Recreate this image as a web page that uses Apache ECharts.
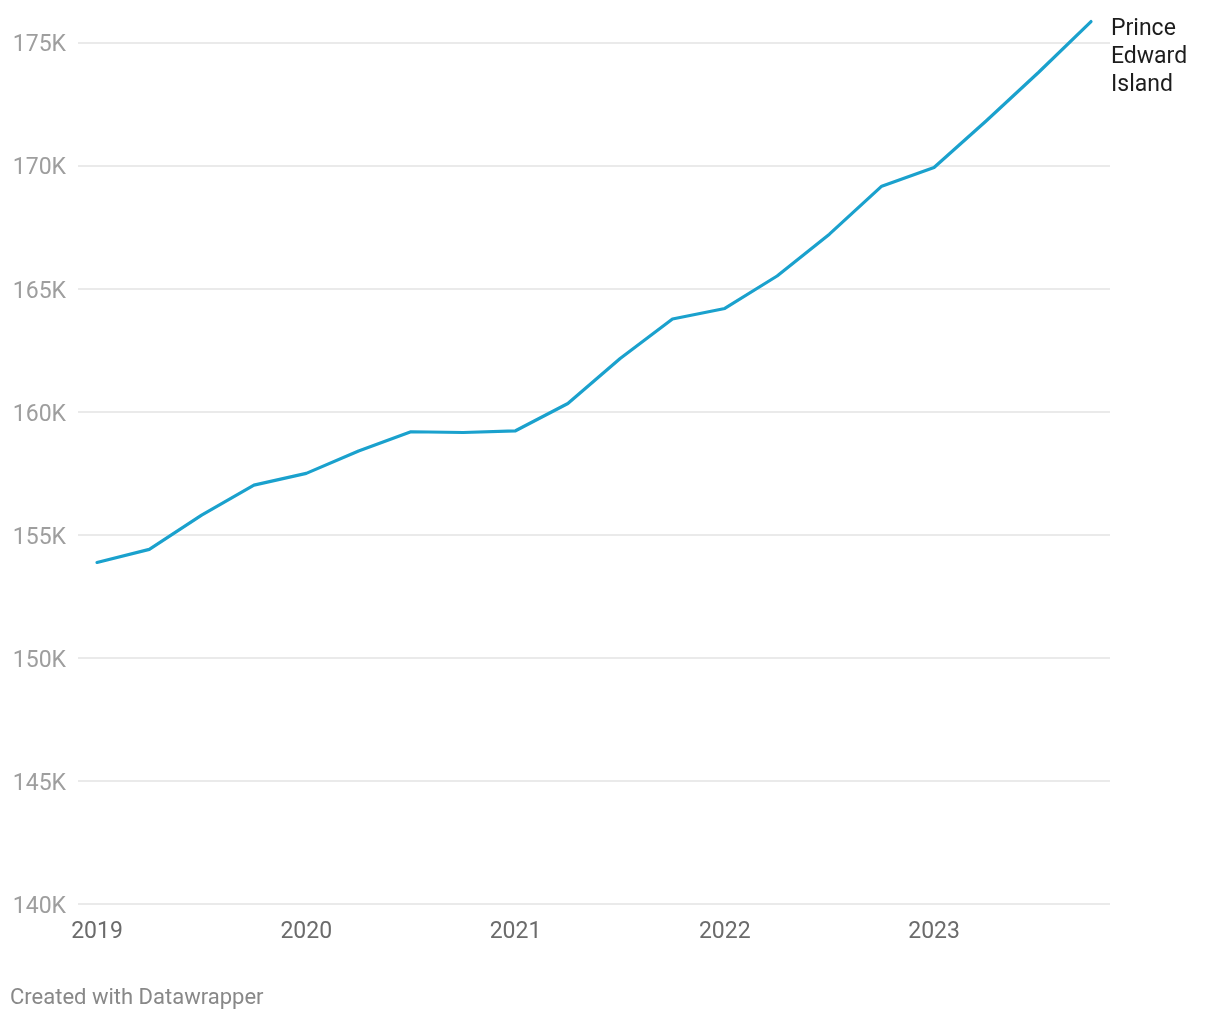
<!DOCTYPE html>
<html>
<head>
<meta charset="utf-8">
<script src="https://cdn.jsdelivr.net/npm/echarts@6/dist/echarts.min.js"></script>
<style>
html,body{margin:0;padding:0;background:#fff;}
#chart{width:1220px;height:1020px;}
</style>
</head>
<body>
<div id="chart"></div>
<script>
const quarters = [
  "2019 Q1","2019 Q2","2019 Q3","2019 Q4",
  "2020 Q1","2020 Q2","2020 Q3","2020 Q4",
  "2021 Q1","2021 Q2","2021 Q3","2021 Q4",
  "2022 Q1","2022 Q2","2022 Q3","2022 Q4",
  "2023 Q1","2023 Q2","2023 Q3","2023 Q4"
];
const population = [
  153880, 154410, 155800, 157020,
  157500, 158410, 159190, 159160,
  159230, 160340, 162170, 163770,
  164200, 165520, 167220, 169170,
  169930, 171830, 173800, 175860
];
const seriesName = "Prince Edward Island";
const yMin = 140000, yMax = 175000, yStep = 5000;
const footer = "Created with Datawrapper";

const chart = echarts.init(document.getElementById('chart'), null, {renderer:'canvas'});
const font = 'Roboto';
const option = {
  animation: false,
  backgroundColor: '#ffffff',
  grid: [
    {left: 78, right: 110, top: 42.7, bottom: 116},
    {left: 97, right: 129, top: 42.7, bottom: 116}
  ],
  xAxis: [
    {gridIndex: 0, type: 'category', data: quarters, show: false},
    {
      gridIndex: 1, type: 'category', data: quarters, boundaryGap: false,
      axisLine: {show: false}, axisTick: {show: false}, splitLine: {show: false},
      axisLabel: {
        interval: function(i){ return i % 4 === 0; },
        formatter: function(v){ return v.slice(0,4); },
        color: '#6b6b6b', fontFamily: font, fontSize: 23, margin: 17
      }
    }
  ],
  yAxis: [
    {
      gridIndex: 0, type: 'value', min: yMin, max: yMax, interval: yStep,
      axisLine: {show: false}, axisTick: {show: false},
      splitLine: {lineStyle: {color: '#e3e3e3', width: 1.6}},
      axisLabel: {
        formatter: function(v){ return (v/1000) + 'K'; },
        color: '#9e9e9e', fontFamily: font, fontSize: 23, margin: 12,
        verticalAlign: 'top', lineHeight: 6
      }
    },
    {gridIndex: 1, type: 'value', min: yMin, max: yMax, interval: yStep, show: false, splitLine: {show:false}}
  ],
  series: [{
    name: seriesName,
    type: 'line',
    xAxisIndex: 1, yAxisIndex: 1,
    data: population,
    clip: false,
    showSymbol: false,
    symbol: 'none',
    lineStyle: {color: '#1aa1cd', width: 3.2, cap: 'round', join: 'round'},
    endLabel: {
      show: true,
      formatter: function(){ return 'Prince\nEdward\nIsland'; },
      color: '#1d1d1d', fontFamily: font, fontSize: 23, lineHeight: 28,
      align: 'left', verticalAlign: 'top',
      distance: 0, offset: [20, -6]
    }
  }],
  graphic: [{
    type: 'text', left: 10, top: 987,
    style: {text: footer, fill: '#888888', font: '22px Roboto'}
  }]
};
chart.setOption(option);
</script>
</body>
</html>
